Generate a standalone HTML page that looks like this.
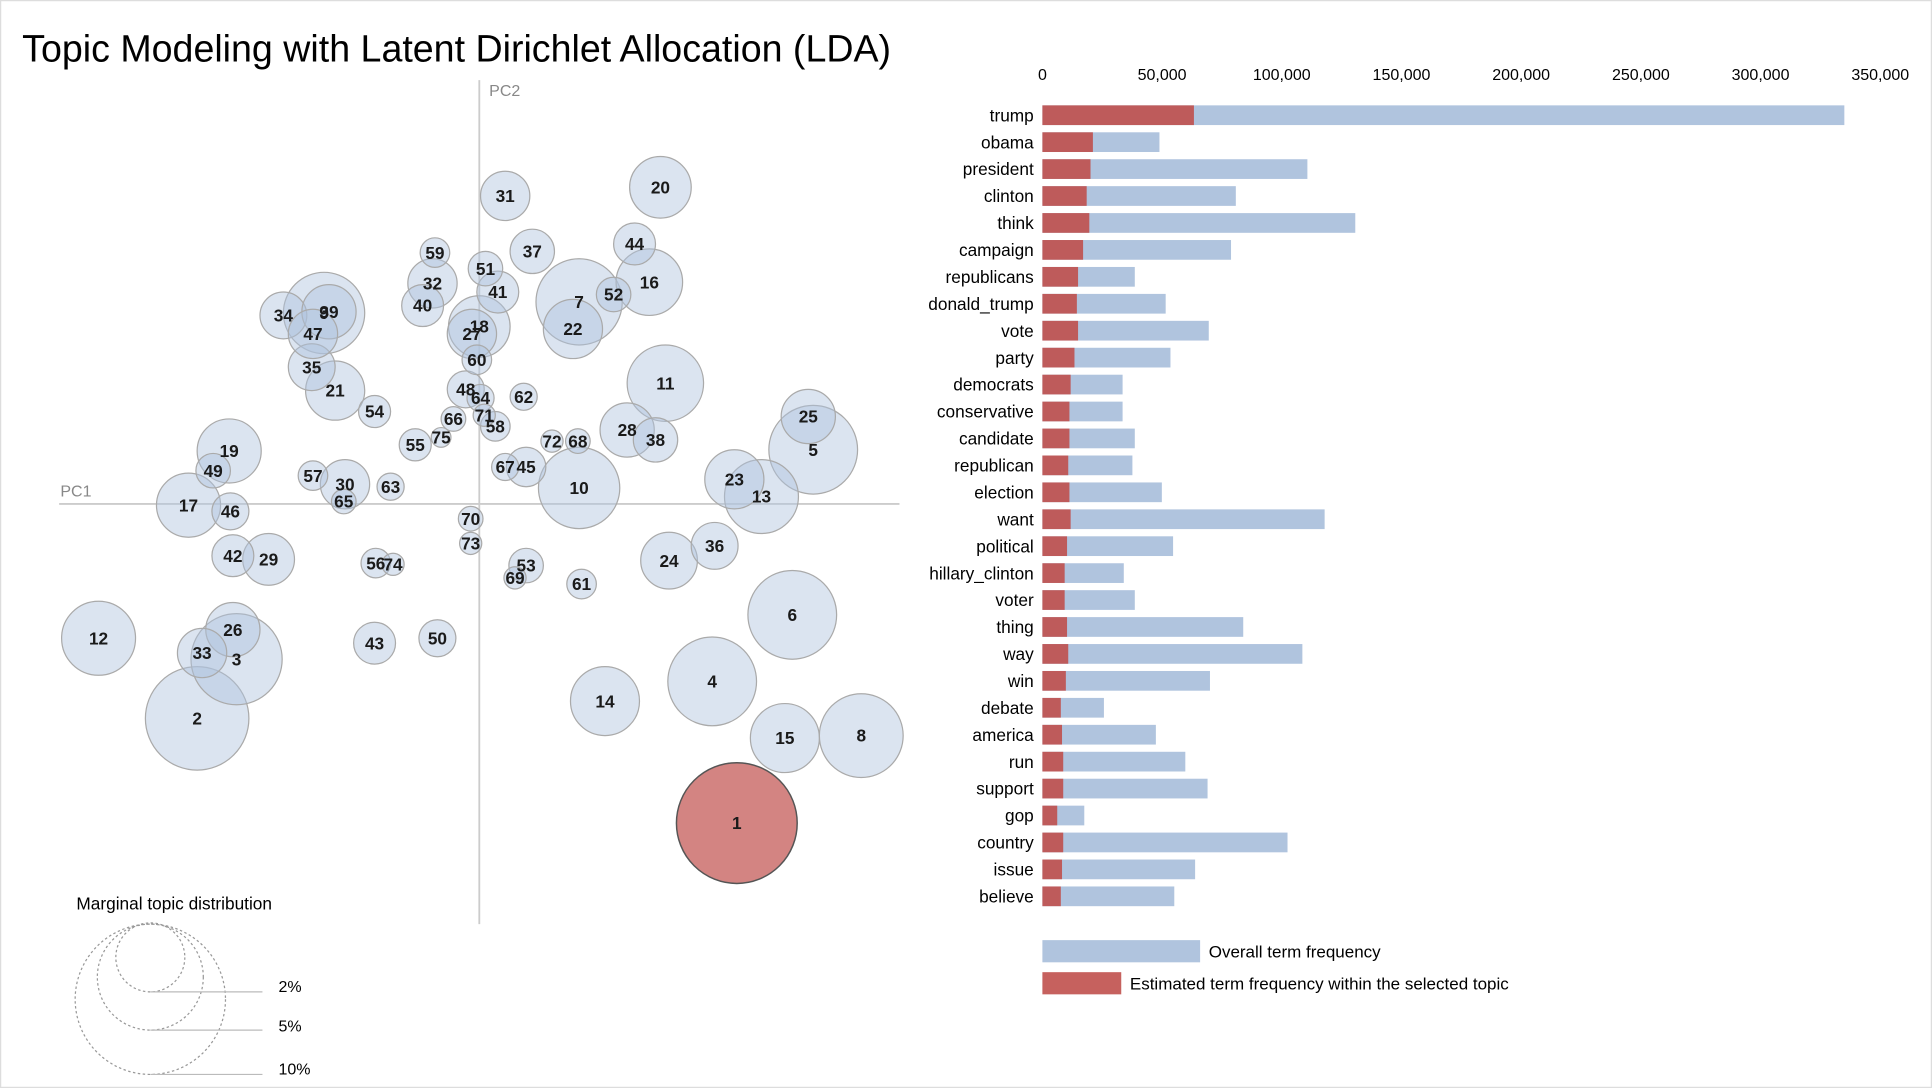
<!DOCTYPE html>
<html><head><meta charset="utf-8"><style>
html,body{margin:0;padding:0;background:#fff;}
svg{display:block;font-family:"Liberation Sans",Arial,sans-serif;}
</style></head><body>
<svg id="chart" width="1932" height="1088" viewBox="0 0 1568 883">
<rect x="0.5" y="0.5" width="1567" height="882" fill="#fff" stroke="#ddd"/>
<text x="18" y="50" font-size="30.5" fill="#000">Topic Modeling with Latent Dirichlet Allocation (LDA)</text>
<g id="map">
<line x1="48" y1="409" x2="730" y2="409" stroke="#ccc" stroke-width="1.5"/>
<line x1="389" y1="65" x2="389" y2="750" stroke="#ccc" stroke-width="1.5"/>
<text x="49" y="403" font-size="13" fill="#888">PC1</text>
<text x="397" y="78" font-size="13" fill="#888">PC2</text>
</g>
<g id="bars"></g>
<g>
<rect x="846" y="763" width="128" height="18" fill="#b0c4de"/>
<text x="981" y="777" font-size="13.8">Overall term frequency</text>
<rect x="846" y="789" width="64" height="18" fill="#c0504d" opacity="0.9"/>
<text x="917" y="803" font-size="13.8">Estimated term frequency within the selected topic</text>
</g>
<g>
<text x="62" y="738" font-size="14">Marginal topic distribution</text>
<circle cx="122" cy="811" r="61" fill="none" stroke="#999" stroke-dasharray="2,2"/>
<circle cx="122" cy="793" r="43" fill="none" stroke="#999" stroke-dasharray="2,2"/>
<circle cx="122" cy="777" r="28" fill="none" stroke="#999" stroke-dasharray="2,2"/>
<line x1="122" y1="805" x2="213" y2="805" stroke="#bbb"/>
<line x1="122" y1="836" x2="213" y2="836" stroke="#bbb"/>
<line x1="122" y1="872" x2="213" y2="872" stroke="#bbb"/>
<text x="226" y="805" font-size="13">2%</text>
<text x="226" y="837" font-size="13">5%</text>
<text x="226" y="872" font-size="13">10%</text>
</g>
</svg>
<script>
const NS='http://www.w3.org/2000/svg';
const topicIds=[1,2,3,4,5,6,7,8,9,10,11,12,13,14,15,16,17,18,19,20,21,22,23,24,25,26,27,28,29,30,31,32,33,34,35,36,37,38,39,40,41,42,43,44,45,46,47,48,49,50,51,52,53,54,55,56,57,58,59,60,61,62,63,64,65,66,67,68,69,70,71,72,73,74,75];
const topicPC1=[598,160,192,578,660,643,470,699,263,470,540,80,618,491,637,527,153,389,186,536,272,465,596,543,656,189,383,509,218,280,410,351,164,230,253,580,432,532,267,343,404,189,304,515,427,187,254,378,173,355,394,498,427,304,337,305,254,402,353,387,472,425,317,390,279,368,410,469,418,382,393,448,382,319,358];
const topicPC2=[668,583,535,553,365,499,245,597,254,396,311,518,403,569,599,229,410,265,366,152,317,267,389,455,338,511,271,349,454,393,159,230,530,256,298,443,204,357,253,248,237,451,522,198,379,415,271,316,382,518,218,239,459,334,361,457,386,346,205,292,474,322,395,323,407,340,379,358,469,421,337,358,441,458,355];
const topicSize=[49,42,37,36,36,36,35,34,33,33,31,30,30,28,28,27,26,25,26,25,24,24,24,23,22,22,20,22,21,20,20,20,20,19,19,19,18,18,22,17,17,17,17,17,16,15,20,15,14,15,14,14,14,13,13,12,12,12,12,12,12,11,11,11,10,10,11,10,9,10,9,9,9,9,8];
const map=document.getElementById('map');
const order=topicIds.map((d,i)=>i);
order.forEach(i=>{
  const c=document.createElementNS(NS,'circle');
  c.setAttribute('cx',topicPC1[i]);c.setAttribute('cy',topicPC2[i]);c.setAttribute('r',topicSize[i]);
  const sel=topicIds[i]===1;
  c.setAttribute('fill',sel?'#c0504d':'#b0c4de');
  c.setAttribute('fill-opacity',sel?0.7:0.45);
  c.setAttribute('stroke',sel?'#555':'#aaa');
  c.setAttribute('stroke-width',sel?1.2:1);
  
  
  map.appendChild(c);
});
order.forEach(i=>{
  const t=document.createElementNS(NS,'text');
  t.setAttribute('x',topicPC1[i]);t.setAttribute('y',topicPC2[i]+5);
  t.setAttribute('text-anchor','middle');t.setAttribute('font-size','14');t.setAttribute('font-weight','bold');
  t.setAttribute('fill','#1a1a1a');
  t.textContent=topicIds[i];
  
  
  map.appendChild(t);
});
const terms=['trump','obama','president','clinton','think','campaign','republicans','donald_trump','vote','party','democrats','conservative','candidate','republican','election','want','political','hillary_clinton','voter','thing','way','win','debate','america','run','support','gop','country','issue','believe'];
const overallFreq=[335000,48900,110700,80800,130700,78800,38600,51500,69500,53500,33500,33500,38600,37600,49900,117900,54600,34000,38600,83900,108600,70000,25700,47400,59700,69000,17500,102400,63800,55100];
const topicFreq=[63300,21100,20100,18500,19600,17000,14900,14400,14900,13400,11800,11300,11300,10800,11300,11800,10300,9300,9300,10300,10800,9800,7700,8200,8700,8700,6200,8700,8200,7700];
const tickValues=[0,50000,100000,150000,200000,250000,300000,350000];
const tickLabels=['0','50,000','100,000','150,000','200,000','250,000','300,000','350,000'];
const x0=846,x1=1526,xMax=350000;
const xs=v=>x0+(v/xMax)*(x1-x0);
const y0=93.5,step=21.86,bh=16;
const ys=i=>y0+i*step;
const bars=document.getElementById('bars');
tickValues.forEach((v,i)=>{
  const t=document.createElementNS(NS,'text');
  t.setAttribute('x',xs(v));t.setAttribute('y',65);t.setAttribute('text-anchor','middle');t.setAttribute('font-size','13');
  t.textContent=tickLabels[i];
  
  
  bars.appendChild(t);
});
terms.forEach((term,i)=>{
  const r=document.createElementNS(NS,'rect');
  r.setAttribute('x',x0);r.setAttribute('y',ys(i)-bh/2);r.setAttribute('width',xs(overallFreq[i])-x0);r.setAttribute('height',bh);
  r.setAttribute('fill','#b0c4de');
  
  
  bars.appendChild(r);
  const r2=document.createElementNS(NS,'rect');
  r2.setAttribute('x',x0);r2.setAttribute('y',ys(i)-bh/2);r2.setAttribute('width',xs(topicFreq[i])-x0);r2.setAttribute('height',bh);
  r2.setAttribute('fill','#c0504d');r2.setAttribute('opacity','0.9');
  
  
  bars.appendChild(r2);
  const t=document.createElementNS(NS,'text');
  t.setAttribute('x',839);t.setAttribute('y',ys(i)+5);t.setAttribute('text-anchor','end');t.setAttribute('font-size','14');
  t.textContent=term;
  
  
  bars.appendChild(t);
});
</script>
</body></html>
